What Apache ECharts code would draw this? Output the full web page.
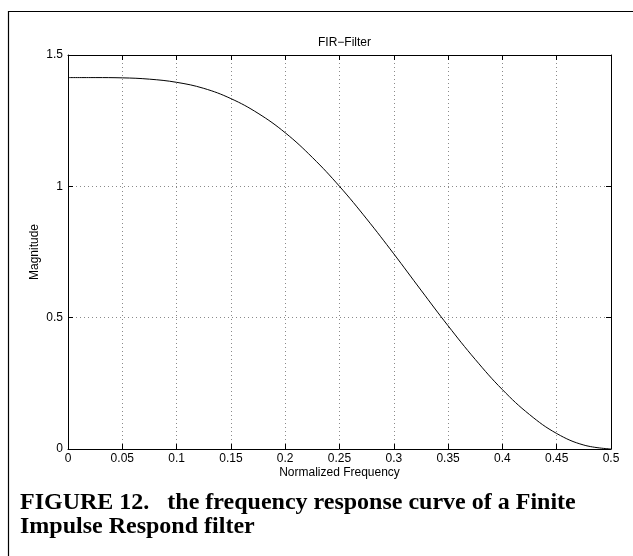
<!DOCTYPE html>
<html>
<head>
<meta charset="utf-8">
<script src="https://cdn.jsdelivr.net/npm/echarts@6/dist/echarts.min.js"></script>
<style>
  html, body { margin: 0; padding: 0; background: #fff; }
  #chart { width: 633px; height: 556px; }
</style>
</head>
<body>
<div id="chart"></div>
<script>
// Normalized frequency samples (cycles/sample)
const frequency = [0, 0.025, 0.05, 0.075, 0.1, 0.125, 0.15, 0.175, 0.2, 0.225, 0.25,
                   0.275, 0.3, 0.325, 0.35, 0.375, 0.4, 0.425, 0.45, 0.475, 0.5];
// Magnitude of the FIR filter response at those frequencies
const magnitude = [1.414, 1.414, 1.413, 1.408, 1.396, 1.373, 1.334, 1.278, 1.204, 1.110, 1.000,
                   0.876, 0.743, 0.605, 0.469, 0.341, 0.226, 0.131, 0.059, 0.015, 0.000];
// Axis tick values
const xTicks = [0, 0.05, 0.1, 0.15, 0.2, 0.25, 0.3, 0.35, 0.4, 0.45, 0.5];
const yTicks = [0, 0.5, 1, 1.5];

const chart = echarts.init(document.getElementById('chart'), null, { renderer: 'canvas' });

const sans = 'Liberation Sans, Arial, Helvetica, sans-serif';
const serif = 'Liberation Serif, Times New Roman, Times, serif';
const frameLine = () => ({ show: true, onZero: false, lineStyle: { color: '#000', width: 1 } });
const inTick = () => ({ show: true, inside: true, length: 5, lineStyle: { color: '#000', width: 1 } });
const dotted = () => ({ show: true, lineStyle: { color: '#8a8a8a', width: 1, type: [1, 3] } });
const fmt = v => String(+v.toFixed(2));

chart.setOption({
  animation: false,
  backgroundColor: '#fff',
  title: {
    text: 'FIR\u2212Filter',
    left: 339.5,
    textAlign: 'center',
    top: 32,
    textStyle: { fontFamily: sans, fontSize: 12, fontWeight: 'normal', color: '#000' }
  },
  grid: { left: 68, right: 22, top: 55, bottom: 107, containLabel: false },
  xAxis: [
    {
      type: 'value',
      min: xTicks[0],
      max: xTicks[xTicks.length - 1],
      interval: xTicks[1] - xTicks[0],
      position: 'bottom',
      name: 'Normalized Frequency',
      nameLocation: 'middle',
      nameGap: 18,
      nameMoveOverlap: false,
      nameTextStyle: { fontFamily: sans, fontSize: 12, color: '#000' },
      axisLine: frameLine(),
      axisTick: inTick(),
      axisLabel: { fontFamily: sans, fontSize: 12, color: '#000', margin: 4, formatter: fmt },
      splitLine: dotted()
    },
    {
      type: 'value',
      min: xTicks[0],
      max: xTicks[xTicks.length - 1],
      interval: xTicks[1] - xTicks[0],
      position: 'top',
      axisLine: frameLine(),
      axisTick: inTick(),
      axisLabel: { show: false },
      splitLine: { show: false }
    }
  ],
  yAxis: [
    {
      type: 'value',
      min: yTicks[0],
      max: yTicks[yTicks.length - 1],
      interval: yTicks[1] - yTicks[0],
      position: 'left',
      name: 'Magnitude',
      nameLocation: 'middle',
      nameGap: 27,
      nameMoveOverlap: false,
      nameTextStyle: { fontFamily: sans, fontSize: 12, color: '#000' },
      axisLine: frameLine(),
      axisTick: inTick(),
      axisLabel: { fontFamily: sans, fontSize: 12, color: '#000', margin: 5, formatter: fmt },
      splitLine: dotted()
    },
    {
      type: 'value',
      min: yTicks[0],
      max: yTicks[yTicks.length - 1],
      interval: yTicks[1] - yTicks[0],
      position: 'right',
      axisLine: frameLine(),
      axisTick: inTick(),
      axisLabel: { show: false },
      splitLine: { show: false }
    }
  ],
  series: [{
    type: 'line',
    xAxisIndex: 0,
    yAxisIndex: 0,
    data: frequency.map((f, i) => [f, magnitude[i]]),
    showSymbol: false,
    smooth: 0.4,
    lineStyle: { color: '#000', width: 1 },
    z: 5
  }],
  graphic: [
    {
      type: 'polyline',
      silent: true,
      shape: { points: [[633, 11.5], [8.5, 11.5], [8.5, 556]] },
      style: { stroke: '#000', lineWidth: 1.2, fill: null }
    },
    {
      type: 'text',
      silent: true,
      style: {
        text: 'FIGURE 12.   the frequency response curve of a Finite',
        x: 20, y: 503,
        verticalAlign: 'middle',
        font: 'bold 24px ' + serif,
        fill: '#000'
      }
    },
    {
      type: 'text',
      silent: true,
      style: {
        text: 'Impulse Respond filter',
        x: 20, y: 527,
        verticalAlign: 'middle',
        font: 'bold 24px ' + serif,
        fill: '#000'
      }
    }
  ]
});
</script>
</body>
</html>
